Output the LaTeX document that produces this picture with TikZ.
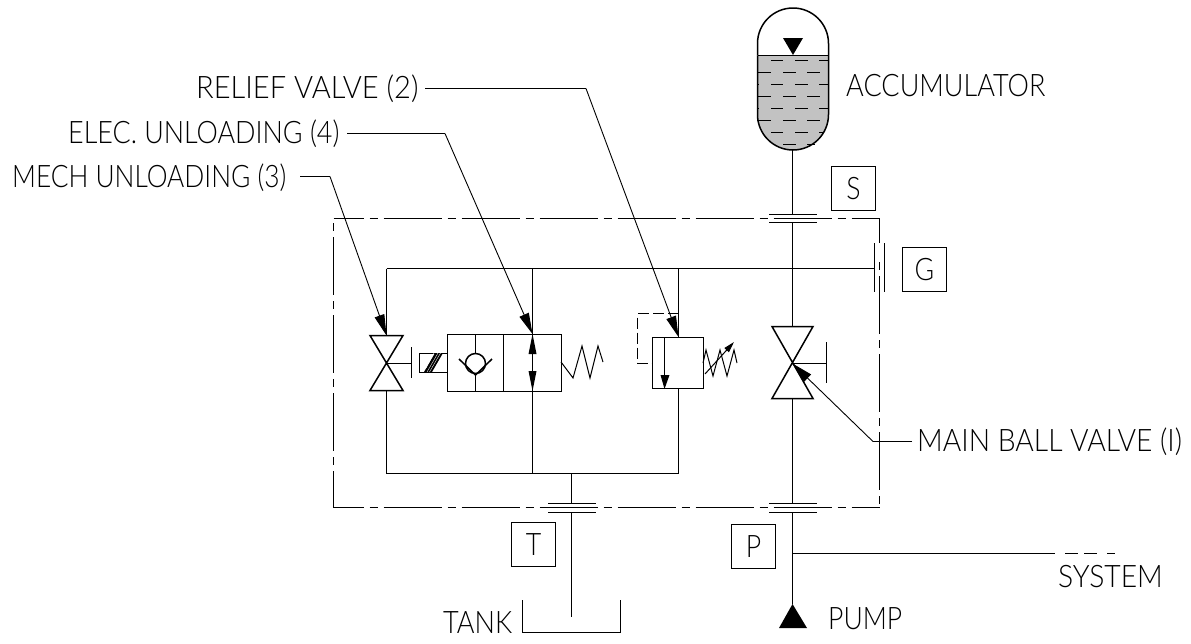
\documentclass[tikz,border=0pt]{standalone}
\usepackage{fontspec}
\usepackage{graphicx}
\setmainfont[FakeStretch=0.86]{Lato Light}
\usetikzlibrary{arrows.meta}
\definecolor{liq}{gray}{0.76}
\tikzset{
  x=1pt,y=-1pt,
  ln/.style={line width=1.5pt,black},
  thin leader/.style={line width=0.9pt,black},
  border/.style={line width=1.5pt},
  solid tri/.style={fill=black,draw=none},
  portbox/.style={draw,line width=1.1pt,minimum width=44pt,minimum height=44pt,inner sep=0pt,font=\fontsize{31}{31}\selectfont},
  lab/.style={inner sep=0pt,font=\fontsize{31}{31}\selectfont,text=black},
  head/.style={-{Triangle[length=21pt,width=10pt]}},
}
\newcommand{\sx}[2]{\scalebox{#1}[1]{#2}}
\begin{document}
\begin{tikzpicture}
\useasboundingbox (0,0) rectangle (1191,643);
% key coordinates
\coordinate (accB) at (792.5,150);
\coordinate (sT) at (792.5,214.5); \coordinate (sB) at (792.5,222.5);
\coordinate (jG) at (792.5,268.5); \coordinate (gE) at (874.5,268.5);
\coordinate (mvT) at (792.5,326.5); \coordinate (mvB) at (792.5,398.5); \coordinate (mvC) at (792.5,363.5);
\coordinate (pT) at (792.5,503.5); \coordinate (pB) at (792.5,512.5);
\coordinate (jS) at (792.5,553.5);
\coordinate (pumpT) at (792.5,604);
\coordinate (lvT) at (386.5,335.5); \coordinate (lvB) at (386.5,390.5); \coordinate (lvC) at (386.5,363.5);
\coordinate (jL) at (386.5,268.5); \coordinate (bL) at (386.5,473.5);
\coordinate (j2) at (532.5,268.5); \coordinate (b2) at (532.5,473.5);
\coordinate (j3) at (678.5,268.5); \coordinate (b3) at (678.5,473.5);
\coordinate (jT) at (571.5,473.5); \coordinate (tT) at (571.5,503.5); \coordinate (tB) at (571.5,512.5); \coordinate (tE) at (571.5,617);
% accumulator
\path[fill=liq] (757.5,55.5) -- (828.5,55.5) -- (828.5,114.5) arc[start angle=0,end angle=180,radius=35.5] -- cycle;
\draw[ln] (757.5,55.5) -- (757.5,114.5) arc[start angle=180,end angle=0,radius=35.5] -- (828.5,55.5);
\draw[ln] (757.5,55.5) -- (757.5,43.5) arc[start angle=180,end angle=360,radius=35.5] -- (828.5,55.5);
\draw[ln] (757.5,55.5) -- (828.5,55.5);
\fill[solid tri] (783,38) -- (803,38) -- (793,55) -- cycle;
\draw[line width=1.1pt]
  (771,60.5)--(783,60.5) (795,60.5)--(808,60.5) (819,60.5)--(828,60.5)
  (757,72.5)--(771,72.5) (783,72.5)--(796,72.5) (807,72.5)--(820,72.5)
  (757,84.5)--(759,84.5) (771,84.5)--(783,84.5) (795,84.5)--(808,84.5) (819,84.5)--(828,84.5)
  (757,96.5)--(771,96.5) (783,96.5)--(796,96.5) (807,96.5)--(820,96.5)
  (757,108.5)--(759,108.5) (771,108.5)--(783,108.5) (795,108.5)--(808,108.5) (819,108.5)--(828,108.5)
  (757,120.5)--(771,120.5) (783,120.5)--(796,120.5) (807,120.5)--(820,120.5)
  (771,132.5)--(783,132.5) (795,132.5)--(808,132.5) (819,132.5)--(824,132.5)
  (783,144.5)--(796,144.5) (807,144.5)--(815,144.5);
% border
\draw[border,dash pattern=on 58pt off 6pt on 8pt off 6pt,dash phase=28pt] (333.5,218.5)--(879.5,218.5);
\draw[border,dash pattern=on 58pt off 6pt on 8pt off 6pt,dash phase=28pt] (333.5,507.5)--(879.5,507.5);
\draw[border,dash pattern=on 58pt off 6pt on 8pt off 6pt,dash phase=21pt] (333.5,507.5)--(333.5,218.5);
\draw[border] (879.5,218.5)--(879.5,243);
\draw[border,dash pattern=on 8pt off 6pt on 58pt off 6pt] (879.5,262)--(879.5,507.5);
% port flanges
\draw[ln] (769,214.5)--(817,214.5) (769,222.5)--(817,222.5);
\draw[ln] (769,503.5)--(817,503.5) (769,512.5)--(817,512.5);
\draw[ln] (548,503.5)--(596,503.5) (548,512.5)--(596,512.5);
\draw[ln] (874.5,243)--(874.5,292) (884.5,243)--(884.5,292);
% main line
\draw[ln] (accB)--(sT) (sB)--(mvT) (mvB)--(pT) (pB)--(pumpT);
\draw[ln] (jL)--(gE);
\draw[ln] (bL)--(b3);
\draw[ln] (jT)--(tT) (tB)--(tE);
\draw[ln] (jS)--(1055,553.5);
\draw[ln] (1065,553.5)--(1078,553.5) (1084,553.5)--(1097,553.5) (1107,553.5)--(1115,553.5);
\fill[solid tri] (pumpT) -- (807,628) -- (779,628) -- cycle;
% tank
\draw[ln] (522.5,600)--(522.5,632.5)--(620.5,632.5)--(620.5,600);
% left ball valve
\draw[ln] (jL)--(lvT) (lvB)--(bL);
\draw[ln,line join=miter] (370,335.5)--(403,335.5)--(370,390.5)--(403,390.5)--cycle;
\draw[ln] (lvC)--(411.5,363.5) (411.5,347)--(411.5,378);
% solenoid valve
\draw[ln] (j2)--(532.5,334.5) (532.5,391.5)--(b2);
\draw[ln] (447.5,334.5) rectangle (561.5,391.5);
\draw[ln] (503.5,334.5)--(503.5,391.5);
\draw[ln] (419.5,353.5) rectangle (447.5,372.5);
\fill[black] (424,372)--(432,372)--(443,353)--(435,353)--cycle;
\draw[white,line width=0.35pt] (427,372)--(438,353) (429.5,372)--(440.5,353) (425.5,369)--(434,353);
\draw[ln] (475.5,334.5)--(475.5,353) (475.5,375)--(475.5,391.5);
\draw[ln] (475.5,363.5) circle[radius=10];
\draw[ln] (459,359)--(475.5,375)--(492,359);
\draw[ln] (532.5,334.5)--(532.5,391.5);
\fill[solid tri] (532.5,334)--(536.5,354)--(528.5,354)--cycle;
\fill[solid tri] (532.5,391)--(536.5,371)--(528.5,371)--cycle;
\draw[line width=1pt] (561,362)--(573,378)--(582,346)--(590,378)--(598,346)--(603,362);
% relief valve
\draw[ln] (j3)--(678.5,337.5) (678.5,388.5)--(b3);
\draw[ln] (652.5,337.5) rectangle (703.5,388.5);
\draw[ln,dash pattern=on 11pt off 4pt] (678.5,313.5)--(637.5,313.5)--(637.5,363.5)--(652.5,363.5);
\draw[ln] (664.5,337.5)--(664.5,378);
\fill[solid tri] (664.5,389)--(669.5,375)--(660.5,375)--cycle;
\draw[line width=1pt] (703,363)--(706,350)--(713,376)--(720,350)--(727,376)--(734,350)--(737,363);
\draw[line width=1pt,-{Triangle[length=11pt,width=6pt]}] (705,374)--(734,342);
% main ball valve
\draw[ln,line join=miter] (772,326.5)--(813,326.5)--(772,398.5)--(813,398.5)--cycle;
\draw[ln] (mvC)--(826.5,363.5) (826.5,342)--(826.5,383);
% labels
\node[lab,anchor=west] (acc) at (846,86) {\sx{1.014}{ACCUMULATOR}};
\node[lab,anchor=west] (rel) at (196,89) {\sx{1.09}{RELIEF VALVE (2)}};
\node[lab,anchor=west] (ele) at (68,134) {\sx{1.009}{ELEC. UNLOADING (4)}};
\node[lab,anchor=west] (mec) at (12,178) {\sx{0.986}{MECH UNLOADING (3)}};
\node[lab,anchor=west] (mbv) at (917,442) {\sx{1.06}{MAIN BALL VALVE (I)}};
\node[lab,anchor=west] (sys) at (1058,577) {\sx{1.06}{SYSTEM}};
\node[lab,anchor=west] (tnk) at (443,623) {\sx{1.014}{TANK}};
\node[lab,anchor=west] (pmp) at (828,619) {\sx{0.995}{PUMP}};
\node[portbox] (S) at (853.5,188.5) {S};
\node[portbox] (G) at (924.5,269.5) {G};
\node[portbox] (T) at (533.5,544.5) {T};
\node[portbox] (P) at (753.5,546.5) {P};
% leaders
\coordinate (rk) at (586,88.5); \coordinate (ek) at (445,133.5); \coordinate (mk) at (330,176.5); \coordinate (bk) at (873,441.5);
\draw[thin leader] (425,88.5)--(rk);
\draw[thin leader,head] (rk)--(678.5,337);
\draw[thin leader] (347,133.5)--(ek);
\draw[thin leader,head] (ek)--(532.5,334);
\draw[thin leader] (300,176.5)--(mk);
\draw[thin leader,head] (mk)--(lvT);
\draw[thin leader] (912,441.5)--(bk);
\draw[thin leader,head] (bk)--(mvC);
\end{tikzpicture}
\end{document}
